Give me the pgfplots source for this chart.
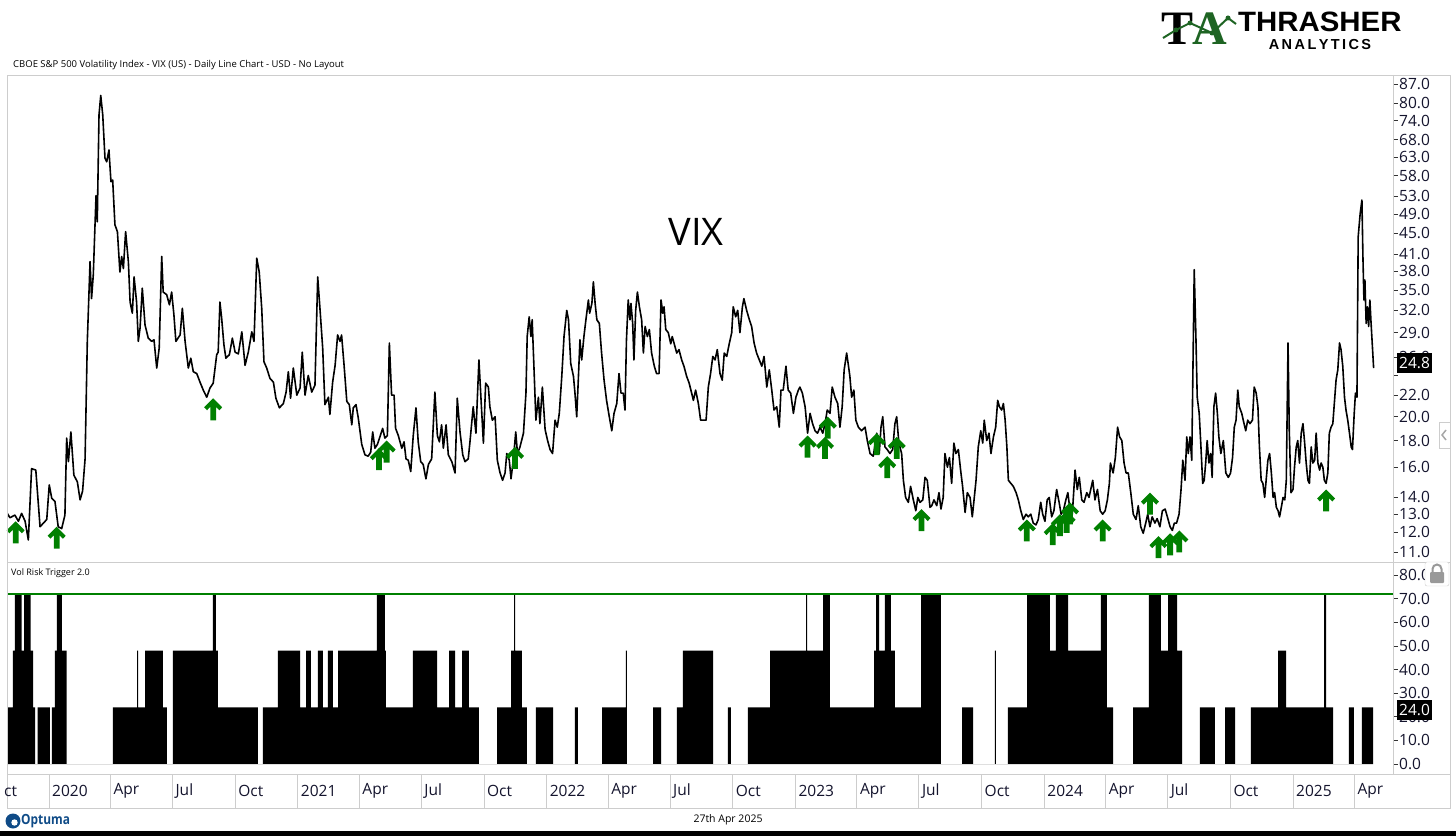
\documentclass[border=0pt]{standalone}
\usepackage{fontspec}
\setmainfont{Open Sans}
\newfontfamily\arialfont{Liberation Sans}
\newfontfamily\serifb{Liberation Serif}
\usepackage{pgfplots}
\pgfplotsset{compat=1.18}
\definecolor{arrgreen}{RGB}{0,128,0}
\definecolor{framegray}{RGB}{205,205,205}
\definecolor{ticktext}{RGB}{20,20,45}
\definecolor{logogreen}{RGB}{30,100,35}
\definecolor{optblue}{RGB}{15,75,135}
\pgfdeclareplotmark{uparr}{%
\pgfpathmoveto{\pgfqpoint{0pt}{0pt}}%
\pgfpathlineto{\pgfqpoint{9pt}{-9pt}}%
\pgfpathlineto{\pgfqpoint{6.2pt}{-12pt}}%
\pgfpathlineto{\pgfqpoint{2.9pt}{-8.6pt}}%
\pgfpathlineto{\pgfqpoint{2.9pt}{-22pt}}%
\pgfpathlineto{\pgfqpoint{-2.9pt}{-22pt}}%
\pgfpathlineto{\pgfqpoint{-2.9pt}{-8.6pt}}%
\pgfpathlineto{\pgfqpoint{-6.2pt}{-12pt}}%
\pgfpathlineto{\pgfqpoint{-9pt}{-9pt}}%
\pgfpathclose\pgfusepathqfill}
\begin{document}
\begin{tikzpicture}
\path[use as bounding box] (0pt,0pt) rectangle (1456pt,836pt);
% ---------------- VIX panel
\begin{axis}[
  at={(7pt,274pt)}, anchor=south west, scale only axis,
  width=1386pt, height=487pt,
  xmin=2019.8312, xmax=2025.4019,
  ymode=log, ymin=10.526, ymax=90.53,
  axis line style={draw=framegray},
  xtick=\empty, yminorticks=false,
  ytick pos=right, yticklabel pos=right, tick align=outside,
  major tick length=5pt,
  ytick style={draw=black!80, line width=0.6pt},
  ytick={11,12,13,14,16,18,20,22,24,26,29,32,35,38,41,45,49,53,58,63,68,74,80,87},
  yticklabels={11.0,12.0,13.0,14.0,16.0,18.0,20.0,22.0,{},26.0,29.0,32.0,35.0,38.0,41.0,45.0,49.0,53.0,58.0,63.0,68.0,74.0,80.0,87.0},
  yticklabel style={font=\fontsize{15.5}{15.5}\selectfont, text=ticktext, anchor=west, inner sep=1pt},
]
\addplot[black, line width=1.6pt, line join=round] coordinates {
(2019.830,13.1)(2019.843,12.8)(2019.863,12.95)(2019.877,12.6)(2019.890,13.05)(2019.904,12.6)(2019.917,11.6)(2019.930,15.9)(2019.947,15.8)(2019.964,12.3)(2019.991,12.7)(2020.001,14.8)(2020.011,13.95)(2020.024,13.75)(2020.037,12.3)(2020.051,12.2)(2020.064,12.95)(2020.071,18.2)(2020.078,16.4)(2020.088,18.7)(2020.100,15.45)(2020.114,15.0)(2020.125,13.85)(2020.135,14.4)(2020.145,16.6)(2020.154,27.9)(2020.165,39.7)(2020.171,33.7)(2020.178,37.4)(2020.189,53.1)(2020.194,47.3)(2020.201,75.9)(2020.208,82.7)(2020.216,75.9)(2020.225,62.7)(2020.232,61.7)(2020.241,65.0)(2020.249,56.5)(2020.256,56.9)(2020.265,46.7)(2020.275,45.3)(2020.285,37.9)(2020.292,40.6)(2020.299,38.5)(2020.308,45.3)(2020.319,39.7)(2020.326,33.2)(2020.335,31.6)(2020.342,37.1)(2020.352,33.2)(2020.359,27.9)(2020.366,29.6)(2020.375,35.3)(2020.386,30.0)(2020.399,28.3)(2020.413,27.9)(2020.422,28.1)(2020.433,24.8)(2020.443,27.1)(2020.453,40.6)(2020.459,34.7)(2020.473,34.3)(2020.484,32.8)(2020.493,34.7)(2020.502,31.4)(2020.510,27.9)(2020.527,28.7)(2020.536,32.3)(2020.547,27.9)(2020.560,24.8)(2020.570,25.9)(2020.580,24.4)(2020.594,24.2)(2020.607,23.3)(2020.620,22.5)(2020.634,21.8)(2020.647,22.7)(2020.660,23.2)(2020.674,26.3)(2020.680,26.6)(2020.687,33.2)(2020.694,30.9)(2020.703,27.5)(2020.711,25.9)(2020.725,26.3)(2020.737,28.3)(2020.748,26.6)(2020.761,26.4)(2020.775,29.1)(2020.788,25.1)(2020.801,26.6)(2020.815,29.1)(2020.824,27.9)(2020.835,40.3)(2020.845,37.9)(2020.855,32.3)(2020.864,25.5)(2020.875,24.8)(2020.888,23.7)(2020.902,23.3)(2020.912,21.7)(2020.926,20.8)(2020.942,21.2)(2020.953,22.3)(2020.962,24.4)(2020.971,21.7)(2020.982,24.8)(2020.996,22.0)(2021.009,22.7)(2021.018,26.6)(2021.029,22.0)(2021.042,24.0)(2021.056,22.3)(2021.069,23.0)(2021.080,37.1)(2021.089,32.3)(2021.100,27.1)(2021.109,21.1)(2021.123,21.8)(2021.129,20.2)(2021.140,23.3)(2021.150,25.1)(2021.160,28.7)(2021.170,27.9)(2021.176,28.7)(2021.186,25.1)(2021.197,21.4)(2021.207,21.1)(2021.217,19.3)(2021.223,20.8)(2021.234,21.1)(2021.243,19.9)(2021.257,17.7)(2021.270,16.9)(2021.283,16.8)(2021.293,17.1)(2021.301,18.7)(2021.310,17.4)(2021.320,17.7)(2021.330,18.3)(2021.341,19.0)(2021.350,18.2)(2021.360,18.4)(2021.368,27.7)(2021.377,22.0)(2021.387,22.0)(2021.393,19.0)(2021.404,18.4)(2021.418,17.4)(2021.427,17.9)(2021.435,16.6)(2021.444,16.5)(2021.454,15.7)(2021.464,18.4)(2021.475,20.8)(2021.484,17.9)(2021.494,16.4)(2021.504,16.2)(2021.515,15.2)(2021.525,16.2)(2021.538,16.6)(2021.551,22.3)(2021.561,18.4)(2021.569,17.9)(2021.578,19.3)(2021.585,17.4)(2021.596,19.3)(2021.605,16.9)(2021.619,16.4)(2021.632,15.6)(2021.641,21.7)(2021.652,18.7)(2021.663,16.9)(2021.672,16.4)(2021.685,16.6)(2021.692,17.9)
(2021.705,20.9)(2021.716,18.6)(2021.728,25.7)(2021.736,21.8)(2021.746,17.8)(2021.755,23.2)(2021.766,22.8)(2021.772,20.9)(2021.782,19.7)(2021.793,20.0)(2021.802,16.5)(2021.813,15.6)(2021.823,15.1)(2021.833,15.6)(2021.840,17.0)(2021.850,16.5)(2021.857,15.2)(2021.866,16.5)(2021.876,18.7)(2021.883,17.0)(2021.893,17.5)(2021.907,18.6)(2021.917,22.2)(2021.922,28.5)(2021.930,31.1)(2021.937,28.5)(2021.942,30.7)(2021.949,25.0)(2021.957,19.7)(2021.967,21.8)(2021.973,19.4)(2021.983,22.8)(2021.994,18.9)(2022.004,18.0)(2022.014,17.3)(2022.024,17.0)(2022.034,19.7)(2022.043,19.1)(2022.051,20.3)(2022.061,23.9)(2022.070,28.5)(2022.081,32.0)(2022.088,30.7)(2022.097,25.3)(2022.108,23.9)(2022.114,22.2)(2022.121,20.0)(2022.128,23.9)(2022.134,28.1)(2022.141,25.7)(2022.150,28.5)(2022.158,30.7)(2022.168,33.5)(2022.173,31.6)(2022.182,33.0)(2022.188,36.3)(2022.195,33.0)(2022.202,30.7)(2022.212,30.2)(2022.221,26.5)(2022.231,23.5)(2022.241,21.5)(2022.252,20.0)(2022.262,18.8)(2022.271,20.3)(2022.282,21.2)(2022.291,24.2)(2022.299,22.2)(2022.308,22.2)(2022.315,20.6)(2022.321,28.1)(2022.328,33.5)(2022.335,30.7)(2022.339,33.0)(2022.346,30.2)(2022.351,25.7)(2022.358,32.0)(2022.365,34.7)(2022.373,32.5)(2022.382,30.7)(2022.389,26.5)(2022.396,29.8)(2022.405,28.5)(2022.413,29.4)(2022.422,26.5)(2022.433,25.0)(2022.442,24.2)(2022.452,24.2)(2022.460,33.5)(2022.467,31.6)(2022.472,32.5)(2022.479,29.4)(2022.489,29.0)(2022.499,27.6)(2022.505,28.5)(2022.513,27.6)(2022.523,26.5)(2022.532,26.9)(2022.543,25.7)(2022.552,25.0)(2022.563,23.9)(2022.573,23.2)(2022.583,22.2)(2022.590,21.5)(2022.599,22.5)(2022.610,21.2)(2022.619,19.7)(2022.630,19.7)(2022.641,19.7)(2022.650,22.8)(2022.659,24.2)(2022.668,26.1)(2022.677,25.7)(2022.686,26.9)(2022.697,24.2)(2022.706,23.5)(2022.714,26.5)(2022.724,26.1)(2022.734,27.6)(2022.744,29.0)(2022.750,32.5)(2022.760,31.1)(2022.768,32.0)(2022.777,29.0)(2022.787,32.5)(2022.793,33.7)(2022.804,32.0)(2022.815,30.7)(2022.824,29.8)(2022.834,27.7)(2022.844,26.5)(2022.855,25.7)(2022.865,25.0)(2022.874,26.1)(2022.885,22.8)(2022.895,24.6)(2022.905,22.5)(2022.914,20.6)(2022.925,20.9)(2022.935,19.1)(2022.942,22.5)(2022.951,22.5)(2022.962,25.0)(2022.971,22.5)(2022.981,22.2)(2022.992,20.3)(2023.002,21.8)(2023.012,22.5)(2023.018,22.8)(2023.028,22.2)(2023.039,20.9)(2023.049,18.6)(2023.059,20.3)(2023.069,19.4)(2023.079,18.8)(2023.089,18.6)(2023.099,19.1)(2023.110,18.6)(2023.119,19.4)(2023.128,20.6)(2023.139,20.3)(2023.148,22.8)(2023.159,21.8)(2023.170,21.2)(2023.179,19.1)(2023.188,20.9)(2023.196,24.6)(2023.206,26.5)(2023.212,25.3)(2023.219,23.9)(2023.226,21.8)(2023.235,22.5)(2023.243,19.7)(2023.253,19.1)(2023.266,18.8)(2023.280,19.1)(2023.289,18.0)(2023.300,17.0)(2023.313,16.8)(2023.327,18.6)(2023.337,17.0)(2023.344,19.1)(2023.351,20.0)(2023.360,17.5)(2023.369,17.3)(2023.380,17.0)(2023.391,17.3)(2023.400,19.4)(2023.407,20.0)(2023.416,17.8)(2023.427,17.0)(2023.434,15.1)(2023.443,14.0)(2023.454,13.7)(2023.463,14.7)(2023.474,13.85)(2023.484,13.2)(2023.492,14.0)(2023.501,13.7)(2023.512,13.85)(2023.521,15.3)(2023.530,15.1)(2023.541,13.4)
(2023.548,13.5)(2023.557,13.85)(2023.568,13.5)(2023.577,14.3)(2023.585,13.3)(2023.594,14.0)(2023.601,17.0)(2023.611,16.0)(2023.619,16.7)(2023.628,14.9)(2023.637,17.8)(2023.645,17.0)(2023.655,17.3)(2023.664,15.8)(2023.672,14.7)(2023.682,13.1)(2023.691,14.3)(2023.702,14.0)(2023.711,12.85)(2023.719,14.0)(2023.726,15.1)(2023.735,17.5)(2023.745,18.8)(2023.753,17.8)(2023.759,19.7)(2023.769,18.0)(2023.778,18.6)(2023.786,17.0)(2023.796,18.3)(2023.805,19.1)(2023.813,21.5)(2023.820,20.9)(2023.829,20.6)(2023.836,21.2)(2023.843,19.7)(2023.850,17.5)(2023.856,15.1)(2023.866,14.9)(2023.876,14.7)(2023.887,14.3)(2023.896,13.85)(2023.906,13.2)(2023.916,12.7)(2023.927,13.0)(2023.936,12.85)(2023.946,13.0)(2023.956,12.5)(2023.967,12.4)(2023.976,12.7)(2023.986,13.7)(2023.994,13.0)(2024.003,12.6)(2024.012,13.85)(2024.020,14.0)(2024.030,12.85)(2024.039,13.2)(2024.050,14.5)(2024.060,13.7)(2024.068,13.0)(2024.077,13.2)(2024.087,13.85)(2024.095,14.3)(2024.104,13.2)(2024.113,13.0)(2024.124,15.8)(2024.133,14.5)(2024.141,15.3)(2024.151,13.85)(2024.160,13.7)(2024.171,14.3)(2024.180,14.0)(2024.187,14.5)(2024.195,15.1)(2024.204,13.85)(2024.214,14.5)(2024.225,13.2)(2024.235,13.0)(2024.245,13.2)(2024.254,13.85)(2024.262,14.9)(2024.266,16.3)(2024.277,15.6)(2024.286,16.7)(2024.295,19.1)(2024.303,18.3)(2024.312,18.0)(2024.321,16.3)(2024.329,15.6)(2024.338,15.6)(2024.348,14.3)(2024.358,13.0)(2024.369,12.7)(2024.378,13.5)(2024.388,12.3)(2024.398,11.95)(2024.408,12.5)(2024.416,13.0)(2024.425,12.3)(2024.434,12.85)(2024.445,12.5)(2024.454,12.75)(2024.465,12.3)(2024.475,13.2)(2024.486,13.3)(2024.495,12.85)(2024.506,12.3)(2024.515,12.1)(2024.523,12.5)(2024.532,12.5)(2024.542,13.0)(2024.550,14.5)(2024.557,16.5)(2024.566,15.1)(2024.573,18.3)(2024.579,17.0)(2024.586,18.3)(2024.593,16.5)(2024.599,27.3)(2024.603,38.3)(2024.610,28.1)(2024.615,21.8)(2024.623,20.3)(2024.630,17.5)(2024.637,14.9)(2024.643,15.1)(2024.649,16.3)(2024.655,18.0)(2024.662,16.3)(2024.669,17.0)(2024.675,15.3)(2024.682,20.9)(2024.689,22.2)(2024.696,20.3)(2024.702,18.3)(2024.710,17.0)(2024.720,18.0)(2024.730,15.6)(2024.740,15.3)(2024.749,15.6)(2024.757,16.7)(2024.764,19.1)(2024.771,19.7)(2024.778,22.5)(2024.784,20.9)(2024.794,20.3)(2024.800,19.7)(2024.810,18.8)(2024.818,19.7)(2024.827,19.4)(2024.837,19.7)(2024.844,22.8)(2024.852,22.2)(2024.859,20.9)(2024.865,17.5)(2024.872,15.1)(2024.879,14.9)(2024.886,14.0)(2024.892,15.1)(2024.899,16.5)(2024.906,17.0)(2024.913,15.6)(2024.920,14.0)(2024.926,14.3)(2024.933,13.4)(2024.940,13.2)(2024.946,12.85)(2024.953,13.4)(2024.960,14.0)(2024.967,13.85)(2024.973,15.1)(2024.980,27.7)(2024.985,18.8)(2024.992,14.3)(2025.000,14.5)(2025.006,16.0)(2025.013,17.5)(2025.019,18.0)(2025.026,16.3)(2025.033,18.6)(2025.040,19.4)(2025.046,18.0)(2025.053,16.3)(2025.060,15.1)(2025.066,14.9)(2025.073,17.5)(2025.080,16.3)(2025.087,16.5)(2025.093,18.6)(2025.100,16.3)(2025.107,15.8)(2025.113,16.3)(2025.120,16.0)(2025.126,15.1)(2025.133,14.9)(2025.140,15.6)(2025.146,18.6)(2025.153,19.1)(2025.160,19.4)(2025.167,21.5)(2025.173,23.5)(2025.180,24.6)(2025.187,27.7)(2025.193,26.9)(2025.200,25.0)(2025.207,21.8)(2025.213,20.6)(2025.220,19.7)(2025.227,18.6)(2025.234,17.5)(2025.239,17.3)(2025.246,20.3)(2025.251,22.2)(2025.257,21.8)(2025.262,44.3)(2025.270,49.1)(2025.277,52.1)(2025.281,40.6)(2025.285,33.5)(2025.289,36.6)(2025.294,30.2)(2025.299,32.5)(2025.304,29.8)(2025.309,33.5)(2025.313,30.7)(2025.324,24.8)
};
\addplot[only marks, mark=uparr, color=arrgreen] coordinates {
(2019.866,12.6)(2020.031,12.3)(2020.660,21.7)(2021.326,17.4)(2021.357,18.0)(2021.873,17.5)(2023.049,18.4)(2023.130,20.0)(2023.119,18.3)(2023.327,18.6)(2023.369,16.8)(2023.407,18.3)(2023.507,13.3)(2023.930,12.7)(2024.034,12.5)(2024.063,13.0)(2024.090,13.2)(2024.104,13.7)(2024.235,12.7)(2024.425,14.3)(2024.459,11.8)(2024.506,11.95)(2024.543,12.1)(2025.133,14.5)
};
\end{axis}
% ---------------- Trigger panel
\begin{axis}[
  at={(7pt,62pt)}, anchor=south west, scale only axis,
  width=1386pt, height=212pt,
  xmin=2019.8312, xmax=2025.4019,
  ymin=-4.23, ymax=85.5,
  axis line style={draw=framegray},
  xtick=\empty,
  ytick pos=right, yticklabel pos=right, tick align=outside,
  major tick length=5pt,
  ytick style={draw=black!80, line width=0.6pt},
  ytick={0,10,20,30,40,50,60,70,80},
  yticklabels={0.0,10.0,20.0,30.0,40.0,50.0,60.0,70.0,80.0},
  yticklabel style={font=\fontsize{15.5}{15.5}\selectfont, text=ticktext, anchor=west, inner sep=1pt},
]
\addplot[const plot mark left, fill=black, draw=none] coordinates {
(2019.831,24)(2019.855,48)(2019.863,72)(2019.890,48)(2019.900,72)(2019.926,48)(2019.936,24)(2019.944,0)(2019.954,24)(2020.004,0)(2020.012,24)(2020.024,48)(2020.032,72)(2020.052,48)(2020.071,0)(2020.257,24)(2020.354,48)(2020.358,24)(2020.386,48)(2020.458,24)(2020.474,0)(2020.498,48)(2020.659,72)(2020.671,48)(2020.679,24)(2020.840,0)(2020.860,24)(2020.920,48)(2021.009,24)(2021.033,48)(2021.053,24)(2021.081,48)(2021.101,24)(2021.121,48)(2021.141,24)(2021.162,48)(2021.318,72)(2021.350,48)(2021.354,24)(2021.463,48)(2021.560,24)(2021.608,48)(2021.632,24)(2021.660,48)(2021.688,24)(2021.728,0)(2021.801,24)(2021.857,48)(2021.869,72)(2021.873,48)(2021.901,24)(2021.921,0)(2021.957,24)(2022.026,0)(2022.114,24)(2022.126,0)(2022.223,24)(2022.319,48)(2022.323,0)(2022.428,24)(2022.460,0)(2022.524,24)(2022.548,48)(2022.669,0)(2022.729,24)(2022.741,0)(2022.809,24)(2022.898,48)(2023.043,72)(2023.047,48)(2023.111,72)(2023.139,24)(2023.316,48)(2023.324,72)(2023.336,48)(2023.360,72)(2023.384,48)(2023.400,24)(2023.505,72)(2023.585,0)(2023.670,24)(2023.714,0)(2023.802,48)(2023.806,0)(2023.854,24)(2023.931,72)(2024.023,48)(2024.047,72)(2024.096,48)(2024.228,72)(2024.252,24)(2024.277,0)(2024.357,24)(2024.421,72)(2024.469,48)(2024.498,72)(2024.534,48)(2024.554,0)(2024.626,24)(2024.686,0)(2024.727,24)(2024.767,0)(2024.831,24)(2024.940,48)(2024.972,24)(2025.125,72)(2025.133,24)(2025.161,0)(2025.225,24)(2025.245,0)(2025.277,24)(2025.322,24)
} \closedcycle;
\addplot[arrgreen, line width=2pt] coordinates {(2019.8312,72)(2025.4019,72)};
\end{axis}
% ---------------- date band
\begin{axis}[
  at={(7pt,28pt)}, anchor=south west, scale only axis,
  width=1386pt, height=34pt,
  xmin=2019.8312, xmax=2025.4019, ymin=0, ymax=1,
  axis line style={draw=none}, ytick=\empty,
  xmajorgrids, grid style={draw=framegray, line width=0.8pt},
  major tick length=0pt,
  xtick={2020,2020.247,2020.496,2020.748,2021,2021.247,2021.496,2021.748,2022,2022.247,2022.496,2022.748,2023,2023.247,2023.496,2023.748,2024,2024.247,2024.496,2024.748,2025,2025.247},
  xticklabels={2020,Apr,Jul,Oct,2021,Apr,Jul,Oct,2022,Apr,Jul,Oct,2023,Apr,Jul,Oct,2024,Apr,Jul,Oct,2025,Apr},
  xticklabel style={font=\fontsize{15.5}{15.5}\selectfont, text=ticktext, anchor=west, inner sep=0pt, xshift=3pt, yshift=17pt},
]
\end{axis}
\begin{scope}[x=1pt,y=1pt]
% frame
\draw[framegray, line width=0.8pt] (7,761) -- (1450,761) -- (1450,28) -- (7,28) -- cycle;
\draw[framegray, line width=0.8pt] (7,274) -- (1450,274);
\draw[framegray, line width=0.8pt] (7,62) -- (1450,62);
\draw[framegray, line width=0.8pt] (1393,761) -- (1393,62);
\node[anchor=west, inner sep=0pt, font=\fontsize{15.5}{15.5}\selectfont, text=ticktext] at (4,45) {ct};
% value boxes
\node[fill=black, text=white, anchor=west, inner sep=2pt, minimum height=20pt, font=\fontsize{15.5}{15.5}\selectfont] at (1397,473) {24.8};
\node[fill=black, text=white, anchor=west, inner sep=2pt, minimum height=20pt, font=\fontsize{15.5}{15.5}\selectfont] at (1397,126) {24.0};
% lock
\draw[framegray, fill=white, rounded corners=2pt] (1425,250) rectangle (1449,274);
\fill[gray!80, rounded corners=1pt] (1430,253) rectangle (1444,264);
\draw[gray!80, line width=2pt] (1432.5,264) -- (1432.5,267) arc (180:0:4.5) -- (1441.5,264);
% side tab
\draw[framegray, fill=white] (1439,388) rectangle (1450,414);
\draw[gray!70, line width=1.5pt] (1446,406) -- (1442,401) -- (1446,396);
% texts
\node[anchor=west, inner sep=0pt, font=\fontsize{9.5}{9.5}\selectfont] at (13,771) {CBOE S\&P 500 Volatility Index - VIX (US) - Daily Line Chart - USD - No Layout};
\node[inner sep=0pt, font=\fontsize{38}{38}\selectfont] at (696,604) {VIX};
\node[anchor=west, inner sep=0pt, font=\fontsize{9}{9}\selectfont] at (11,263) {Vol Risk Trigger 2.0};
\node[inner sep=0pt, font=\fontsize{10.5}{10.5}\selectfont] at (728,16) {27th Apr 2025};
% Optuma
\fill[optblue] (13,15) circle (7.5);
\fill[white] (14.5,13.5) circle (3.2);
\node[anchor=west, inner sep=0pt, text=optblue, font=\fontsize{14}{14}\selectfont\bfseries] at (21,15) {\scalebox{0.85}[1]{Optuma}};
% bottom bar
\fill[black] (0,0) rectangle (1456,5);
% Thrasher logo
\node[anchor=south west, inner sep=0pt, font=\arialfont\bfseries\fontsize{28}{28}\selectfont] at (1238,804) {\scalebox{1.05}[1]{THRASHER}};
\node[anchor=south, inner sep=0pt, font=\arialfont\bfseries\fontsize{14.5}{14.5}\selectfont] at (1320,786) {A\,N\,A\,L\,Y\,T\,I\,C\,S};
\node[anchor=south west, inner sep=0pt, font=\serifb\bfseries\fontsize{48}{48}\selectfont] at (1161,791) {T};
\node[anchor=south west, inner sep=0pt, text=logogreen, font=\serifb\bfseries\fontsize{48}{48}\selectfont] at (1192,791) {A};
\draw[logogreen, line width=2pt] (1163,798) -- (1176,806) -- (1190,813) -- (1212,803) -- (1228,818) -- (1236,812);
\fill[logogreen] (1176,806) circle (2.5) (1190,813) circle (2.5) (1212,803) circle (2.5) (1228,818) circle (2.5);
\end{scope}
\end{tikzpicture}
\end{document}
